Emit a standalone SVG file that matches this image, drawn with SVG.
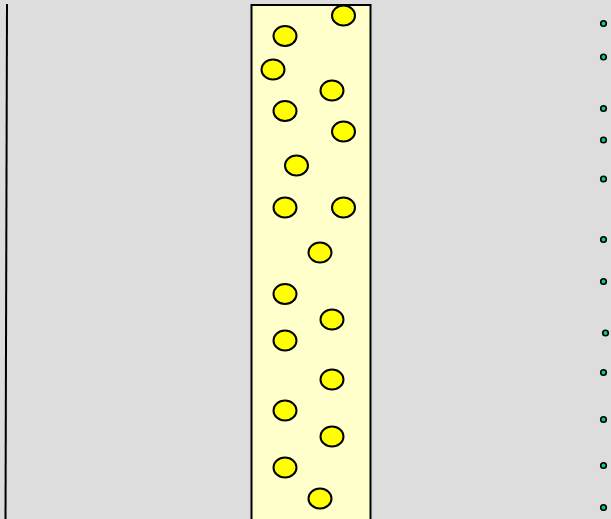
<svg xmlns="http://www.w3.org/2000/svg" width="611" height="519" viewBox="0 0 611 519">
<style>
.cell{fill:#ffff00;stroke:#000;stroke-width:2}
.dot{fill:#00cc99;stroke:#000;stroke-width:1.6}
</style>
<rect x="0" y="0" width="611" height="519" fill="#dddddd"/>
<g id="wall">
<line x1="7" y1="4" x2="5.5" y2="519" stroke="#000" stroke-width="2"/>
</g>
<g id="channel">
<rect x="251.5" y="5" width="119" height="520" fill="#ffffcc" stroke="#000" stroke-width="2"/>
</g>
<g id="cells">
<ellipse class="cell" cx="343.5" cy="15.5" rx="11.5" ry="10"/>
<ellipse class="cell" cx="285" cy="36" rx="11.5" ry="10"/>
<ellipse class="cell" cx="273" cy="69.5" rx="11.5" ry="10"/>
<ellipse class="cell" cx="332" cy="90.5" rx="11.5" ry="10"/>
<ellipse class="cell" cx="285" cy="111" rx="11.5" ry="10"/>
<ellipse class="cell" cx="343.5" cy="131.5" rx="11.5" ry="10"/>
<ellipse class="cell" cx="296.5" cy="165.5" rx="11.5" ry="10"/>
<ellipse class="cell" cx="285" cy="207.5" rx="11.5" ry="10"/>
<ellipse class="cell" cx="343.5" cy="207.5" rx="11.5" ry="10"/>
<ellipse class="cell" cx="320" cy="252.5" rx="11.5" ry="10"/>
<ellipse class="cell" cx="285" cy="294" rx="11.5" ry="10"/>
<ellipse class="cell" cx="332" cy="319.5" rx="11.5" ry="10"/>
<ellipse class="cell" cx="285" cy="340.5" rx="11.5" ry="10"/>
<ellipse class="cell" cx="332" cy="379.5" rx="11.5" ry="10"/>
<ellipse class="cell" cx="285" cy="410.5" rx="11.5" ry="10"/>
<ellipse class="cell" cx="332" cy="436.5" rx="11.5" ry="10"/>
<ellipse class="cell" cx="285" cy="467.5" rx="11.5" ry="10"/>
<ellipse class="cell" cx="320" cy="498.5" rx="11.5" ry="10"/>
</g>
<g id="dots">
<circle class="dot" cx="603.5" cy="23.5" r="2.8"/>
<circle class="dot" cx="603.5" cy="57" r="2.8"/>
<circle class="dot" cx="603.5" cy="108.5" r="2.8"/>
<circle class="dot" cx="603.5" cy="140" r="2.8"/>
<circle class="dot" cx="603.5" cy="179" r="2.8"/>
<circle class="dot" cx="603.5" cy="239.5" r="2.8"/>
<circle class="dot" cx="603.5" cy="281.5" r="2.8"/>
<circle class="dot" cx="605.5" cy="333" r="2.8"/>
<circle class="dot" cx="603.5" cy="372.5" r="2.8"/>
<circle class="dot" cx="603.5" cy="419.5" r="2.8"/>
<circle class="dot" cx="603.5" cy="465.5" r="2.8"/>
<circle class="dot" cx="603.5" cy="507.5" r="2.8"/>
</g>
</svg>
